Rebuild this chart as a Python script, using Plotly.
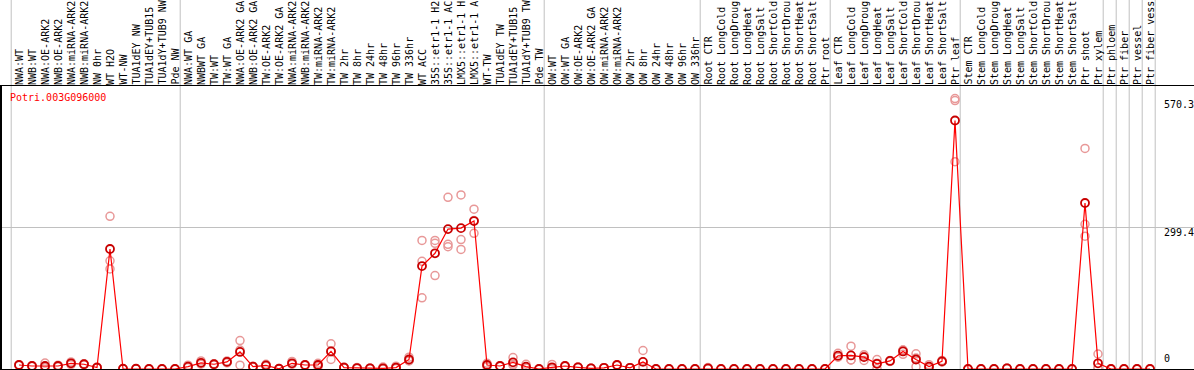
import plotly.graph_objects as go

gene = "Potri.003G096000"

categories = [
    # group 1
    "NWA:WT", "NWB:WT", "NWA:OE-ARK2", "NWB:OE-ARK2", "NWA:miRNA-ARK2", "NWB:miRNA-ARK2",
    "NW 0hr", "WT H2O", "WT-NW", "TUA1dEY NW", "TUA1dEY+TUB15", "TUA1dY+TUB9 NW", "Pde NW",
    # group 2
    "NWA:WT GA", "NWBWT GA", "TW:WT", "TW:WT GA", "NWA:OE-ARK2 GA", "NWB:OE-ARK2 GA",
    "TW:OE-ARK2", "TW:OE-ARK2 GA", "NWA:miRNA-ARK2", "NWB:miRNA-ARK2", "TW:miRNA-ARK2",
    "TW:miRNA-ARK2", "TW 2hr", "TW 8hr", "TW 24hr", "TW 48hr", "TW 96hr", "TW 336hr",
    "WT ACC", "35S::etr1-1 H2", "35S::etr1-1 AC", "LMX5::etr1-1 H", "LMX5::etr1-1 A",
    "WT-TW", "TUA1dEY TW", "TUA1dEY+TUB15", "TUA1dY+TUB9 TW", "Pde TW",
    # group 3
    "OW:WT", "OW:WT GA", "OW:OE-ARK2", "OW:OE-ARK2 GA", "OW:miRNA-ARK2", "OW:miRNA-ARK2",
    "OW 2hr", "OW 8hr", "OW 24hr", "OW 48hr", "OW 96hr", "OW 336hr",
    # group 4
    "Root CTR", "Root LongCold", "Root LongDroug", "Root LongHeat", "Root LongSalt",
    "Root ShortCold", "Root ShortDrou", "Root ShortHeat", "Root ShortSalt", "Ptr root",
    # group 5
    "Leaf CTR", "Leaf LongCold", "Leaf LongDroug", "Leaf LongHeat", "Leaf LongSalt",
    "Leaf ShortCold", "Leaf ShortDrou", "Leaf ShortHeat", "Leaf ShortSalt", "Ptr leaf",
    # group 6
    "Stem CTR", "Stem LongCold", "Stem LongDroug", "Stem LongHeat", "Stem LongSalt",
    "Stem ShortCold", "Stem ShortDrou", "Stem ShortHeat", "Stem ShortSalt", "Ptr shoot",
    "Ptr xylem",
    # singles
    "Ptr phloem", "Ptr fiber", "Ptr vessel", "Ptr fiber vess",
]

# column index where each separator group starts
group_starts = [0, 13, 41, 53, 63, 73, 84, 85, 86, 87, 88]

mean_values = [
    8.4, 6.3, 6.3, 6.3, 12, 10, 3, 253, 0.5, 0.5, 0, 0, 0,
    5, 13, 10, 15, 36, 5, 7.7, 0.5, 12, 8.4, 8.4, 37, 3, 2, 1.5, 1.5, 3, 20,
    217, 244, 295, 297, 312, 8.4, 6.3, 14, 5, 0,
    3.6, 6.3, 3.6, 1.5, 2.5, 8.4, 2.5, 15, 0, 0, 0, 0,
    1.5, 0, 0, 0, 0, 0, 0, 0, 0, 0,
    28, 28.6, 25, 11, 17, 37, 20, 5, 16, 524,
    0, 0, 0, 1.5, 0, 0, 0, 0, 0, 350, 12,
    0, 0, 0, 0,
]

rep1 = [
    8, 6, 12.6, 8, 15, 10, 3, 322, 0.5, 0.5, 0, 0, 0,
    8, 17, 10, 17, 60, 5, 10, 1, 16, 8, 12, 53, 3, 2, 1.5, 4, 6, 25,
    271, 271, 362, 367, 337, 12, 6, 24, 10, 0,
    9.6, 6, 4, 1.5, 2.5, 8, 2.5, 39, 0, 0, 0, 0,
    3, 0, 0, 0, 0, 0, 0, 0, 0, 0,
    33, 48, 30, 20, 17, 40, 32, 9, 18, 570.3,
    0, 0, 0, 2, 0, 0, 0, 0, 0, 465, 31.6,
    0, 0, 0, 0,
]
rep2 = [
    9, 7, 3, 6, 12, 11, 4, 228, 0.5, 0.5, 0, 0, 0,
    4, 12, 11, 15, 8, 6, 7, 0, 10, 9, 8, 20, 4, 1, 2, 0.5, 2, 17,
    227, 265, 263, 273, 286, 8, 7, 10, 3, 0,
    1, 7, 3, 1.5, 2.5, 9, 2.5, 5, 0, 0, 0, 0,
    1, 0, 0, 0, 0, 0, 0, 0, 0, 0,
    25, 19, 18, 1, 16, 31, 5, 4, 15, 566,
    0, 0, 0, 1.5, 0, 0, 0, 0, 0, 305, 2,
    0, 0, 0, 0,
]
rep3 = [
    8, 6, 3, 5, 9, 9, 2, 211, 0.5, 0.5, 0, 0, 0,
    3, 10, 9, 13, 40, 4, 6, 0.5, 10, 8, 5, 38, 2, 3, 1, 0, 1, 18,
    150, 197, 258, 252, 313, 5, 6, 8, 2, 0,
    0.5, 6, 4, 1.5, 2.5, 8, 2.5, 1, 0, 0, 0, 0,
    0.5, 0, 0, 0, 0, 0, 0, 0, 0, 0,
    26, 19, 27, 12, 18, 40, 23, 2, 15, 437,
    0, 0, 0, 1, 0, 0, 0, 0, 0, 280, 2,
    0, 0, 0, 0,
]

y_labels = [570.3, 299.4, 0]
y_label_text = ["570.3", "299.4", "0"]

n = len(categories)
idx = list(range(n))

W, H = 1194, 370
mt, mb, ml, mr = 86, 1, 2, 0
col_px = 13
first_px = 19
x_lo = -(first_px - ml) / col_px
x_hi = x_lo + (W - ml - mr) / col_px
y_max = 596.7

mono = "DejaVu Sans Mono"

fig = go.Figure()
for rep in (rep1, rep2, rep3):
    fig.add_trace(go.Scatter(
        x=idx, y=rep, mode="markers",
        marker=dict(symbol="circle-open", size=8, color="#e89898", line=dict(width=1.5)),
        hoverinfo="skip", showlegend=False, cliponaxis=False,
    ))
fig.add_trace(go.Scatter(
    x=idx, y=mean_values, mode="lines+markers",
    line=dict(color="#ff0000", width=1.2),
    marker=dict(symbol="circle-open", size=8, color="#c80000", line=dict(width=1.8)),
    showlegend=False, cliponaxis=False,
))

shapes = []
for g in group_starts:
    shapes.append(dict(type="line", xref="x", yref="paper", x0=g - 0.6, x1=g - 0.6,
                       y0=0, y1=H / (H - mt - mb), line=dict(color="#c0c0c0", width=1),
                       layer="below"))

annotations = []
for i, lab in enumerate(categories):
    annotations.append(dict(
        x=i, y=1, xref="x", yref="paper", text=lab[:14], showarrow=False,
        textangle=-90, xanchor="center", yanchor="bottom", yshift=-1,
        font=dict(family=mono, size=10, color="#000000"),
    ))
for v, t in zip(y_labels, y_label_text):
    annotations.append(dict(
        x=n, y=v, xref="x", yref="y", text=t, showarrow=False,
        xanchor="left", yanchor="bottom" if v == 0 else "top",
        yshift=3 if v == 0 else 2, xshift=-1,
        font=dict(family=mono, size=10, color="#000000"),
    ))
annotations.append(dict(
    x=0, y=1, xref="paper", yref="paper", text=gene, showarrow=False,
    xanchor="left", yanchor="top", xshift=6, yshift=-4,
    font=dict(family=mono, size=10, color="#ff0000"),
))

fig.update_layout(
    width=W, height=H,
    margin=dict(l=ml, r=mr, t=mt, b=mb, pad=0),
    paper_bgcolor="white", plot_bgcolor="white",
    xaxis=dict(range=[x_lo, x_hi], showgrid=False, zeroline=False, showticklabels=False,
               ticks="", showline=True, linecolor="black", linewidth=1, mirror=True),
    yaxis=dict(range=[0, y_max], tickvals=[299.4], showgrid=True, gridcolor="#c0c0c0",
               gridwidth=1, zeroline=False, showticklabels=False, ticks="",
               showline=True, linecolor="black", linewidth=2),
    shapes=shapes, annotations=annotations,
)

fig.write_html(
    "out.html",
    config={"displayModeBar": False},
    post_script="document.body.style.margin='0px';document.body.style.overflow='hidden';",
)
